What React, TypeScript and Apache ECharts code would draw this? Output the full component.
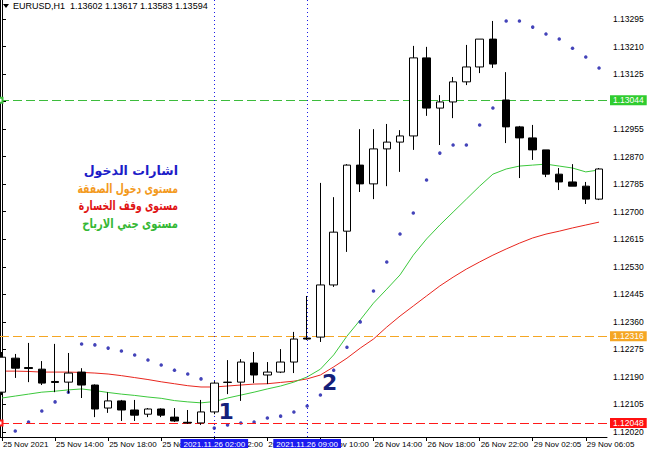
import React, { useEffect, useRef } from 'react';
import * as echarts from 'echarts';

// Hourly bars, index 0 = 25 Nov 10:00 ... index 45 = 29 Nov 07:05
const opens = [1.12143, 1.12248, 1.12219, 1.12214, 1.12176, 1.12174, 1.12205, 1.12165, 1.12094, 1.12116, 1.12088, 1.12075, 1.12091, 1.12066, 1.12050, 1.12048, 1.12082, 1.12173, 1.12174, 1.12233, 1.12196, 1.12205, 1.12236, 1.12310, 1.12313, 1.12474, 1.12640, 1.12844, 1.12786, 1.12894, 1.12915, 1.12934, 1.13175, 1.13020, 1.13039, 1.13101, 1.13147, 1.13233, 1.13045, 1.12962, 1.12928, 1.12891, 1.12816, 1.12792, 1.12779, 1.12739];
const closes = [1.12251, 1.12217, 1.12216, 1.12171, 1.12173, 1.12202, 1.12165, 1.12091, 1.12116, 1.12088, 1.12072, 1.12091, 1.12072, 1.12054, 1.12048, 1.12082, 1.12171, 1.12174, 1.12236, 1.12196, 1.12205, 1.12236, 1.12307, 1.12307, 1.12474, 1.12637, 1.12844, 1.12786, 1.12894, 1.12915, 1.12934, 1.13175, 1.13020, 1.13039, 1.13101, 1.13147, 1.13233, 1.13156, 1.12962, 1.12928, 1.12891, 1.12816, 1.12792, 1.12779, 1.12739, 1.12832];
const lows = [1.12134, 1.12187, 1.12174, 1.12165, 1.12143, 1.12140, 1.12125, 1.12066, 1.12079, 1.12054, 1.12054, 1.12066, 1.12066, 1.12051, 1.12045, 1.12042, 1.12075, 1.12137, 1.12116, 1.12171, 1.12168, 1.12202, 1.12202, 1.12304, 1.12298, 1.12468, 1.12576, 1.12761, 1.12739, 1.12779, 1.12823, 1.12891, 1.12996, 1.12906, 1.12989, 1.13091, 1.13128, 1.13144, 1.12912, 1.12804, 1.12860, 1.12807, 1.12767, 1.12779, 1.12724, 1.12736];
const highs = [1.12267, 1.12261, 1.12295, 1.12239, 1.12292, 1.12264, 1.12217, 1.12167, 1.12143, 1.12119, 1.12119, 1.12094, 1.12093, 1.12094, 1.12088, 1.12119, 1.12177, 1.12242, 1.12245, 1.12267, 1.12236, 1.12276, 1.12329, 1.12440, 1.12789, 1.12745, 1.12847, 1.12955, 1.12955, 1.12971, 1.12952, 1.13212, 1.13209, 1.13060, 1.13116, 1.13215, 1.13233, 1.13289, 1.13131, 1.12965, 1.12968, 1.12891, 1.12835, 1.12847, 1.12792, 1.12835];

const maFast = [1.12125, 1.12131, 1.12137, 1.12143, 1.12146, 1.12150, 1.12153, 1.12148, 1.12142, 1.12137, 1.12133, 1.12128, 1.12124, 1.12117, 1.12113, 1.12110, 1.12114, 1.12125, 1.12134, 1.12143, 1.12153, 1.12162, 1.12174, 1.12190, 1.12214, 1.12258, 1.12316, 1.12366, 1.12418, 1.12461, 1.12505, 1.12566, 1.12616, 1.12659, 1.12699, 1.12739, 1.12779, 1.12816, 1.12832, 1.12841, 1.12844, 1.12847, 1.12841, 1.12835, 1.12823, 1.12829];
const maSlow = [1.12208, 1.12208, 1.12207, 1.12205, 1.12205, 1.12205, 1.12204, 1.12202, 1.12199, 1.12194, 1.12188, 1.12182, 1.12175, 1.12169, 1.12163, 1.12159, 1.12159, 1.12162, 1.12165, 1.12168, 1.12169, 1.12173, 1.12177, 1.12184, 1.12196, 1.12221, 1.12248, 1.12279, 1.12307, 1.12344, 1.12378, 1.12409, 1.12440, 1.12471, 1.12498, 1.12523, 1.12545, 1.12566, 1.12585, 1.12603, 1.12619, 1.12631, 1.12640, 1.12650, 1.12659, 1.12668];
const sar = [null, 1.12023, 1.12051, 1.12085, 1.12113, 1.12143, 1.12292, 1.12289, 1.12279, 1.12270, 1.12258, 1.12242, 1.12227, 1.12211, 1.12199, 1.12184, 1.12032, 1.12042, 1.12048, 1.12051, 1.12063, 1.12069, 1.12082, 1.12100, 1.12134, 1.12211, 1.12282, 1.12360, 1.12455, 1.12545, 1.12631, 1.12696, 1.12798, 1.12881, 1.12906, 1.12906, 1.12968, 1.13020, 1.13289, 1.13289, 1.13270, 1.13249, 1.13233, 1.13205, 1.13178, 1.13144];

const xTickIdx = [0, 4, 8, 12, 16, 20, 24, 28, 32, 36, 40, 44];
const xTickLabels = ['25 Nov 2021', '25 Nov 14:00', '25 Nov 18:00', '25 Nov 22:00', '26 Nov 02:00', '26 Nov 06:00', '26 Nov 10:00', '26 Nov 14:00', '26 Nov 18:00', '26 Nov 22:00', '29 Nov 02:05', '29 Nov 06:05'];
const yTicks = [1.1202, 1.12105, 1.1219, 1.12275, 1.1236, 1.12445, 1.1253, 1.12615, 1.127, 1.12785, 1.1287, 1.12955, 1.1304, 1.13125, 1.1321, 1.13295];

const takeProfit = 1.13044;
const entryLevel = 1.12316;
const stopLoss = 1.12048;

const signalBars = [16, 23];
const signalTimes = ['2021.11.26 02:00', '2021.11.26 09:00'];
const signalNumbers = ['1', '2'];
const signalNumIdx = [16.9, 24.7];
const signalNumPrice = [1.12082, 1.12174];

const header = 'EURUSD,H1  1.13602 1.13617 1.13583 1.13594';
const legendTexts = ['اشارات الدخول', 'مستوى دخول الصفقة', 'مستوى وقف الخسارة', 'مستوى جني الارباح'];
const legendColors = ['#1c1cc8', '#f39a1e', '#e01414', '#35b835'];

const AX_FONT = "'Liberation Sans', Arial, sans-serif";
const LEGEND_FONT = "bold 13px 'DejaVu Sans', sans-serif";
const LEGEND_SCALE = [0.97, 0.72, 0.71, 0.77];

export default function App() {
  const ref = useRef<HTMLDivElement>(null);
  useEffect(() => {
    document.body.style.margin = '0';
    const chart = echarts.init(ref.current!, undefined, { renderer: 'svg' });
    const candleData = opens.map((o, i) => [i, o, closes[i], lows[i], highs[i]]);
    const hLine = (v: number, color: string, labelBg: string, marker: boolean) => ({
      yAxis: v,
      symbol: marker ? 'emptyRect' : 'none',
      symbolSize: 5,
      itemStyle: { color },
      lineStyle: { color, type: [9, 4], width: 1 },
      label: {
        show: true, position: 'end', distance: 3, formatter: v.toFixed(5),
        backgroundColor: labelBg, color: '#ffffff', padding: [1, 3, 0, 3],
        fontSize: 8.5, fontFamily: AX_FONT,
      },
    });
    const vLine = (i: number, t: string) => ({
      xAxis: i,
      symbol: 'none',
      lineStyle: { color: '#1a1ae6', type: [1, 3], width: 1 },
      label: {
        show: true, position: 'start', distance: 2, formatter: t,
        backgroundColor: '#1c1cf0', color: '#ffffff', padding: [1, 3, 0, 3],
        fontSize: 8, fontFamily: AX_FONT,
      },
    });
    chart.setOption({
      animation: false,
      backgroundColor: '#ffffff',
      grid: { left: 0, right: 43, top: 0, bottom: 13 },
      xAxis: {
        type: 'value', min: -0.15, max: 45.6,
        axisLine: { lineStyle: { color: '#000', width: 1 } },
        axisTick: { show: true, length: 4, lineStyle: { color: '#000' }, customValues: xTickIdx },
        axisLabel: {
          customValues: xTickIdx, align: 'left', margin: 3, fontSize: 8, color: '#000',
          fontFamily: AX_FONT, padding: [0, 0, 0, 1],
          formatter: (v: number) => xTickLabels[xTickIdx.indexOf(Math.round(v))] ?? '',
        },
        splitLine: { show: false },
      },
      yAxis: {
        type: 'value', position: 'right', min: 1.120046, max: 1.133537, scale: true,
        axisLine: { show: true, lineStyle: { color: '#000', width: 1 } },
        axisTick: { show: true, length: 4, lineStyle: { color: '#000' }, customValues: yTicks },
        axisLabel: {
          customValues: yTicks, margin: 6, fontSize: 8.5, color: '#000', fontFamily: AX_FONT,
          formatter: (v: number) => v.toFixed(5),
        },
        splitLine: { show: false },
      },
      series: [
        {
          type: 'line', data: maSlow.map((v, i) => [i, v]), showSymbol: false, symbol: 'none',
          lineStyle: { color: '#e8261e', width: 1 }, z: 3, silent: true,
        },
        {
          type: 'line', data: maFast.map((v, i) => [i, v]), showSymbol: false, symbol: 'none',
          lineStyle: { color: '#3cc83c', width: 1 }, z: 3, silent: true,
        },
        {
          type: 'scatter', data: sar.map((v, i) => [i, v]).filter((d) => d[1] != null),
          symbolSize: 3.5, itemStyle: { color: '#1414a8' }, z: 4, silent: true,
        },
        {
          type: 'candlestick', data: candleData, barWidth: 8, z: 5, silent: true,
          itemStyle: {
            color: '#ffffff', color0: '#000000', borderColor: '#000000', borderColor0: '#000000',
            borderColorDoji: '#000000', borderWidth: 1,
          },
          markLine: {
            silent: true, animation: false, symbol: 'none', precision: 5,
            data: [
              hLine(takeProfit, '#3cbc3c', '#2fcc2f', true),
              hLine(entryLevel, '#f5a623', '#f5a623', false),
              hLine(stopLoss, '#ff1a1a', '#ff1010', true),
              vLine(signalBars[0], signalTimes[0]),
              vLine(signalBars[1], signalTimes[1]),
            ],
          },
        },
        {
          type: 'scatter', z: 6, silent: true,
          data: signalNumbers.map((n, i) => ({ value: [signalNumIdx[i], signalNumPrice[i]], name: n })),
          symbolSize: 1, itemStyle: { color: 'rgba(255,255,255,0)' },
          emphasis: { disabled: true },
          label: {
            show: true, position: 'inside', formatter: '{b}', color: '#14207a', opacity: 1,
            textBorderWidth: 0, fontSize: 22, fontWeight: 'bold',
            fontFamily: "'DejaVu Sans', sans-serif",
          },
        },
      ],
      graphic: [
        { type: 'line', shape: { x1: 0.5, y1: 0, x2: 0.5, y2: 437 }, style: { stroke: '#000', lineWidth: 1 } },
        { type: 'polygon', shape: { points: [[3, 4], [9, 4], [6, 8]] }, style: { fill: '#000' } },
        {
          type: 'text', left: 13, top: 1,
          style: { text: header, fontSize: 9, fontFamily: AX_FONT, fill: '#000' },
        },
        ...legendTexts.map((t, i) => ({
          type: 'text', x: 178, y: 170 + i * 18, scaleX: LEGEND_SCALE[i],
          style: {
            text: t, fill: legendColors[i], font: LEGEND_FONT,
            align: 'right', verticalAlign: 'middle',
          },
        })),
      ],
    });
    return () => chart.dispose();
  }, []);
  return <div ref={ref} style={{ width: 650, height: 450 }} />;
}
